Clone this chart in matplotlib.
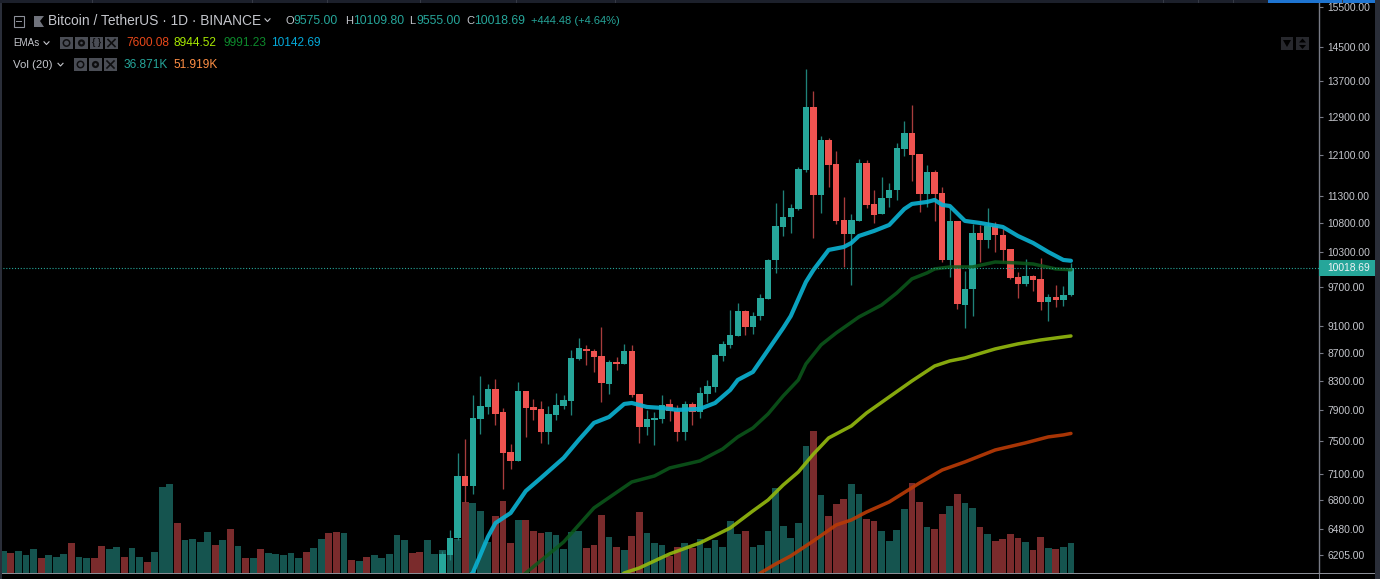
import matplotlib
matplotlib.use("Agg")
import matplotlib.pyplot as plt
from matplotlib.patches import Rectangle, Polygon, Circle

plt.rcParams['font.family'] = ['Liberation Sans', 'DejaVu Sans']

# ---------- data ----------
volume_k = [26.7, 24.6, 27.0, 22.5, 29.5, 18.8, 22.5, 20.0, 23.7, 36.9, 20.0, 18.1, 18.1, 33.6, 29.5, 32.0,
            20.0, 30.4, 20.0, 13.9, 25.8, 105.7, 109.7, 61.5, 40.2, 42.2, 38.1, 50.4, 34.8, 40.2, 54.4, 33.6,
            18.1, 18.8, 29.5, 24.9, 23.7, 22.5, 24.6, 18.8, 25.8, 30.4, 41.8, 49.2, 50.4, 49.2, 16.0, 14.7,
            20.0, 22.5, 18.1, 23.7, 47.1, 40.2, 24.9, 25.8, 40.2, 23.7, 27.9, 22.1, 41.8, 87.3, 85.7, 76.6,
            38.1, 70.1, 88.9, 36.9, 65.5, 65.5, 52.0, 49.2, 50.4, 47.1, 29.1, 50.4, 52.0, 31.1, 34.8, 71.3,
            44.6, 32.3, 28.3, 45.8, 74.6, 49.2, 36.9, 34.8, 20.9, 32.3, 36.9, 30.4, 42.2, 31.1, 40.2, 32.3,
            63.5, 47.9, 52.0, 32.3, 34.8, 51.2, 104.5, 57.8, 43.4, 61.5, 156.5, 174.1, 95.9, 70.1, 84.4, 90.9,
            109.7, 96.7, 66.7, 63.5, 51.2, 39.0, 52.5, 79.0, 110.6, 87.6, 56.9, 54.4, 72.5, 82.3, 97.5, 85.7,
            79.9, 56.9, 47.9, 39.0, 41.4, 47.9, 43.4, 38.1, 27.9, 44.6, 30.4, 29.1, 32.3, 36.9]

early_direction = "grgggrgggrggrrggrggrgggrggggrgrgrgrgggggrggrrgrgrgggggrrgg"

candle_first = 58
candle_open = [5850, 6204, 6382, 7079, 6962, 7787, 7944, 8187, 7878, 7368, 7259, 8159, 7944, 7918, 7619, 7839,
               7957, 8025, 8608, 8753, 8724, 8651, 8255, 8565, 8536, 8724, 8119, 7683, 7774, 7787, 7984, 7892,
               7619, 7984, 7878, 8119, 8214, 8651, 8812, 8945, 9327, 9080, 9248, 9515, 10156, 10732, 10913, 11060,
               11805, 13115, 11322, 12412, 11923, 10859, 10607, 10841, 11943, 11153, 10968, 11265, 11417, 12226,
               12557, 12124, 11341, 11765, 11360, 10156, 10841, 9420, 9676, 10625, 10502, 10750, 10590, 10345,
               9872, 9758, 9889, 9840, 9468, 9547, 9500, 9575]
candle_high = [6246, 6468, 7356, 7531, 8105, 8366, 8255, 8325, 7931, 7468, 8283, 8159, 8051, 8025, 7957, 8132,
               8105, 8738, 8915, 8812, 8753, 9080, 8593, 8636, 8827, 8812, 8119, 7905, 7878, 8105, 8051, 7971,
               8025, 8011, 8214, 8311, 8680, 8871, 9342, 9452, 9342, 9311, 9595, 10173, 11172, 11417, 11153, 11864,
               13974, 13470, 12493, 12453, 12185, 11284, 10968, 12024, 12003, 11417, 11667, 11551, 12349, 12812,
               13158, 12124, 11903, 11805, 11474, 11079, 10841, 9972, 10786, 10768, 11079, 10823, 10696, 10345,
               9955, 10173, 9905, 10190, 9595, 9741, 9725, 10109.8]
candle_low = [5750, 6152, 6361, 6778, 6869, 7594, 7852, 7709, 6927, 7162, 7259, 7556, 7774, 7481, 7468, 7774,
              7918, 7839, 8593, 8522, 8423, 8011, 8119, 8451, 8536, 8078, 7481, 7581, 7455, 7735, 7761, 7506,
              7518, 7709, 7800, 8011, 8146, 8579, 8767, 8945, 8960, 8975, 9187, 9515, 9939, 10572, 10625, 11042,
              11765, 10537, 10987, 11474, 10786, 10038, 9741, 10841, 11079, 10804, 10968, 11097, 11228, 12083,
              11590, 11005, 11097, 10841, 10122, 9872, 9358, 9065, 9248, 10122, 10362, 10293, 10122, 9840,
              9531, 9725, 9644, 9342, 9172, 9389, 9405, 9555]
candle_close = [6214, 6382, 7079, 6962, 7800, 7957, 8187, 7852, 7356, 7259, 8159, 7931, 7905, 7619, 7852, 7971,
                8038, 8622, 8767, 8724, 8636, 8269, 8565, 8536, 8724, 8105, 7683, 7787, 7800, 7971, 7892, 7619,
                7984, 7878, 8132, 8228, 8665, 8827, 8960, 9327, 9080, 9248, 9531, 10156, 10750, 10913, 11079, 11825,
                13115, 11322, 12412, 11903, 10841, 10607, 10859, 11943, 11134, 10950, 11265, 11417, 12247, 12557,
                12103, 11341, 11765, 11341, 10156, 10841, 9436, 9676, 10625, 10502, 10750, 10590, 10328, 9856,
                9758, 9889, 9823, 9468, 9547, 9500, 9579, 10018.69]

ema_blue_x = [61, 62, 64, 65, 67, 69, 71, 74, 76, 78, 80, 82, 83, 85, 87, 89, 92, 94, 96, 97, 99, 101, 103, 104,
              106, 107, 109, 111, 112, 113, 115, 117, 119, 120, 122, 123, 124, 125, 127, 129, 132, 134, 136, 138,
              140, 141]
ema_blue = [5952, 6019, 6393, 6543, 6654, 6903, 7055, 7295, 7518, 7735, 7812, 7984, 7997, 7944, 7931, 7905, 7918,
            7997, 8173, 8311, 8423, 8738, 9065, 9248, 9790, 9989, 10328, 10379, 10449, 10572, 10661, 10768, 11060,
            11153, 11190, 11228, 11134, 11115, 10841, 10804, 10732, 10572, 10449, 10293, 10156, 10142.69]

ema_dark_x = [68, 69, 74, 78, 83, 86, 88, 92, 95, 97, 99, 101, 103, 105, 106, 108, 110, 113, 116, 118, 120, 122,
              123, 125, 128, 131, 134, 136, 139, 141]
ema_dark = [5952, 6019, 6339, 6710, 7008, 7079, 7174, 7259, 7405, 7556, 7670, 7852, 8092, 8311, 8536, 8812, 8990,
            9233, 9420, 9611, 9840, 9939, 10005, 10038, 10038, 10122, 10105, 10088, 10005, 9991.23]

ema_lime_x = [81, 82, 84, 88, 92, 96, 99, 101, 103, 105, 107, 109, 111, 112, 114, 117, 120, 123, 125, 127, 131,
              134, 137, 140, 141]
ema_lime = [5952, 6019, 6070, 6214, 6329, 6489, 6677, 6800, 6973, 7126, 7344, 7543, 7645, 7696, 7864, 8078, 8297,
            8507, 8579, 8622, 8753, 8827, 8885, 8930, 8944.52]

ema_red_x = [99, 100, 102, 104, 107, 110, 112, 114, 117, 121, 124, 127, 131, 135, 138, 140, 141]
ema_red = [5952, 6019, 6110, 6193, 6351, 6522, 6577, 6665, 6778, 6996, 7150, 7247, 7393, 7481, 7556, 7581, 7600.08]

price_ticks = [15500, 14500, 13700, 12900, 12100, 11300, 10800, 10300, 9700, 9100, 8700, 8300, 7900, 7500, 7100,
               6800, 6480, 6205]
last_price = 10018.69

# ---------- styles ----------
BG = "#000000"
UP, DOWN = "#26a69a", "#ef5350"
UP_WICK, DOWN_WICK = "#1f8279", "#a83c3c"
VOL_UP, VOL_DOWN = "#15544f", "#7a2b2c"
TEXT = "#c4c6cc"
AX_COL = "#787b86"
W, H = 1380, 579
L_PX, R_PX, T_PX, B_PX = 0, 1319, 3, 573

fig = plt.figure(figsize=(W / 100, H / 100), dpi=100, facecolor=BG)
pos = [L_PX / W, 1 - B_PX / H, (R_PX - L_PX) / W, (B_PX - T_PX) / H]

x_left, x_right = -0.436, 173.76

# volume pane
ax_v = fig.add_axes(pos, zorder=1, facecolor=BG)
vol_x = list(range(len(volume_k)))
vol_up = [d == "g" for d in early_direction] + [c >= o for o, c in zip(candle_open, candle_close)]
ax_v.bar(vol_x, volume_k, width=0.9, color=[VOL_UP if u else VOL_DOWN for u in vol_up], linewidth=0)
ax_v.set_xlim(x_left, x_right)
ax_v.set_ylim(0, 700.5)
ax_v.axis("off")

# price pane
ax = fig.add_axes(pos, zorder=2)
ax.patch.set_alpha(0)
ax.set_yscale("log")
ax.set_xlim(x_left, x_right)
ax.set_ylim(6019, 15604)

cx = list(range(candle_first, candle_first + len(candle_open)))
for x, o, h, l, c in zip(cx, candle_open, candle_high, candle_low, candle_close):
    up = c >= o
    ax.vlines(x, l, h, color=UP_WICK if up else DOWN_WICK, lw=0.95, zorder=3)
    ax.bar(x, abs(c - o), bottom=min(o, c), width=0.84, color=UP if up else DOWN, linewidth=0, zorder=4)

ax.plot(ema_red_x, ema_red, color="#b83a06", lw=2.5, alpha=0.92, zorder=5, solid_capstyle="round")
ax.plot(ema_lime_x, ema_lime, color="#92b80f", lw=2.5, alpha=0.92, zorder=5, solid_capstyle="round")
ax.plot(ema_dark_x, ema_dark, color="#0c5a1c", lw=2.5, alpha=0.85, zorder=5, solid_capstyle="round")
ax.plot(ema_blue_x, ema_blue, color="#0bb0d0", lw=3.0, alpha=0.92, zorder=6, solid_capstyle="round")
ax.axhline(last_price, color="#26a69a", lw=0.8, ls=(0, (1, 1.6)), zorder=7)

for s in ("left", "top", "bottom"):
    ax.spines[s].set_visible(False)
ax.spines["right"].set_color(AX_COL)
ax.spines["right"].set_linewidth(1)
ax.set_xticks([])
ax.yaxis.tick_right()
ax.set_yticks(price_ticks)
ax.set_yticklabels([f"{t:.2f}" for t in price_ticks])
ax.minorticks_off()
ax.tick_params(axis="y", length=3.2, width=0.8, color=AX_COL, labelcolor=TEXT, labelsize=7.4, pad=3)

# chrome overlay in pixel units
ov = fig.add_axes([0, 0, 1, 1], zorder=3)
ov.set_xlim(0, W)
ov.set_ylim(H, 0)
ov.axis("off")
ov.patch.set_alpha(0)


def rect(x0, y0, x1, y1, color, **kw):
    ov.add_patch(Rectangle((x0, y0), x1 - x0, y1 - y0, facecolor=color, edgecolor="none", **kw))


STRIP = "#2a2e39"
rect(0, 0, W, 3.4, "#1c202b")
rect(1268, 0, 1375, 3.4, "#1e74d0")
for sx in (92, 252, 327, 420, 516, 615, 1163, 1198, 1233, 1342):
    rect(sx, 0, sx + 1, 3.4, "#363a45")
rect(1375, 0, W, H, STRIP)
rect(0, 3, 2, H, STRIP)
rect(2, 573, 1375, 574, "#8b8e96")
rect(1319, 574, 1320, H, AX_COL)

# last price tag
rect(1319, 260, 1375, 276, UP)
ov.text(1327, 268, f"{last_price:.2f}", color="#f0f3f6", fontsize=7.4, va="center", ha="left")

# top-right buttons
rect(1281, 37, 1293, 50, "#27282d")
rect(1296, 37, 1309, 50, "#27282d")
ov.add_patch(Polygon([(1283, 40), (1291, 40), (1287, 47)], facecolor="#000000"))
ov.add_patch(Polygon([(1299, 42.5), (1306, 42.5), (1302.5, 38.5)], facecolor="#000000"))
ov.add_patch(Polygon([(1299, 45), (1306, 45), (1302.5, 49)], facecolor="#000000"))

# legend
FS = 8.6
ov.add_patch(Rectangle((13.5, 16), 10.5, 10.5, facecolor="none", edgecolor="#8d9099", lw=0.8))
rect(16, 20.7, 22, 21.7, "#8d9099")
ov.add_patch(Polygon([(34, 16), (44, 16), (40, 21), (44, 27), (34, 27)], facecolor="#70737c"))
ov.text(48, 21, "Bitcoin / TetherUS · 1D · BINANCE", color=TEXT, fontsize=9.9, va="center", ha="left")


def chevron(x, y, col="#c4c6cc"):
    ov.plot([x, x + 2.5, x + 5], [y - 1.2, y + 1.5, y - 1.2], color=col, lw=0.8)


chevron(265, 20)
VAL = "#26a69a"
for lab, lx, fsl, val, vx in (("O", 285, 8.0, "9575.00", 293), ("H", 345, 8.0, "10109.80", 353),
                              ("L", 409, 8.0, "9555.00", 416), ("C", 466, 8.0, "10018.69", 474)):
    ov.text(lx, 21, lab, color=TEXT, fontsize=fsl, va="center", ha="left")
    ov.text(vx, 21, val, color=VAL, fontsize=8.7, va="center", ha="left")
ov.text(531, 21, "+444.48 (+4.64%)", color=VAL, fontsize=8.0, va="center", ha="left")

ov.text(13, 43, "EMAs", color=TEXT, fontsize=7.1, va="center", ha="left")
chevron(44, 43)
ov.text(13, 64.5, "Vol (20)", color=TEXT, fontsize=8.2, va="center", ha="left")
chevron(58, 64.5)

ICON = "#4a4d55"
GLYPH = "#0e0e10"


def icon_box(ix, y):
    rect(ix, y - 6.2, ix + 13, y + 6.2, ICON)


def eye(ix, y):
    icon_box(ix, y)
    ov.add_patch(Circle((ix + 6.5, y), 3.2, facecolor="none", edgecolor=GLYPH, lw=1.1))


def gear(ix, y):
    icon_box(ix, y)
    ov.add_patch(Circle((ix + 6.5, y), 3.6, facecolor=GLYPH, edgecolor="none"))
    ov.add_patch(Circle((ix + 6.5, y), 1.3, facecolor=ICON, edgecolor="none"))


def braces(ix, y):
    icon_box(ix, y)
    ov.text(ix + 6.5, y - 0.5, "{ }", color=GLYPH, fontsize=6.2, va="center", ha="center", fontweight="bold")


def cross(ix, y):
    icon_box(ix, y)
    ov.plot([ix + 3, ix + 10], [y - 3.5, y + 3.5], color=GLYPH, lw=1.2)
    ov.plot([ix + 3, ix + 10], [y + 3.5, y - 3.5], color=GLYPH, lw=1.2)


eye(60, 43); gear(75, 43); braces(90, 43); cross(105, 43)
eye(74, 64.5); gear(89, 64.5); cross(104, 64.5)

for txt, x, col in (("7600.08", 126, "#e8481a"), ("8944.52", 174, "#a6e800"),
                    ("9991.23", 223, "#0d8a2c"), ("10142.69", 271, "#04a8d8")):
    ov.text(x, 43, txt, color=col, fontsize=FS, va="center", ha="left")
ov.text(124, 64.5, "36.871K", color=VAL, fontsize=FS, va="center", ha="left")
ov.text(173, 64.5, "51.919K", color="#ff8f45", fontsize=FS, va="center", ha="left")

fig.savefig("out.png", dpi=100, facecolor=BG)
